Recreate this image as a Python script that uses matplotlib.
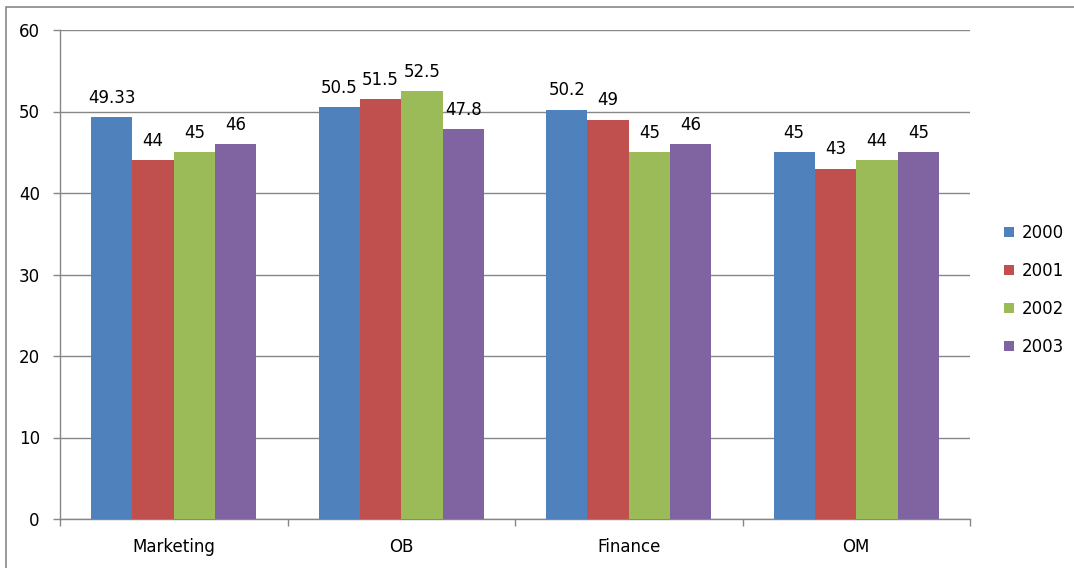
import matplotlib.pyplot as plt
import numpy as np
from matplotlib.patches import Rectangle, Patch

categories = ["Marketing", "OB", "Finance", "OM"]
years = ["2000", "2001", "2002", "2003"]
v2000 = [49.33, 50.5, 50.2, 45]
v2001 = [44, 51.5, 49, 43]
v2002 = [45, 52.5, 45, 44]
v2003 = [46, 47.8, 46, 45]
labels2000 = ["49.33", "50.5", "50.2", "45"]
labels2001 = ["44", "51.5", "49", "43"]
labels2002 = ["45", "52.5", "45", "44"]
labels2003 = ["46", "47.8", "46", "45"]
colors = ["#4F81BD", "#C0504D", "#9BBB59", "#8064A2"]

series = [v2000, v2001, v2002, v2003]
slabels = [labels2000, labels2001, labels2002, labels2003]

plt.rcParams['font.family'] = ['DejaVu Sans']
FS = 12
W, H = 1074, 568
fig = plt.figure(figsize=(W / 100, H / 100), dpi=100)
ax = fig.add_axes([60 / W, 1 - 519 / H, (970 - 60) / W, (519 - 30) / H])

x = np.arange(len(categories))
w = 1 / 5.5
for i, (vals, labs) in enumerate(zip(series, slabels)):
    pos = x - 2 * w + w * i + w / 2
    bars = ax.bar(pos, vals, width=w, color=colors[i], label=years[i], zorder=3)
    for b, lab in zip(bars, labs):
        ax.annotate(lab, (b.get_x() + b.get_width() / 2, b.get_height()),
                    xytext=(0, 7.5), textcoords="offset points",
                    ha="center", va="bottom", fontsize=FS, color="#000000")

ax.set_xlim(-0.5, len(categories) - 0.5)
ax.set_ylim(0, 60)
ax.set_yticks(range(0, 61, 10))
ax.yaxis.grid(True, color="#878787", linewidth=1, zorder=0)
ax.set_axisbelow(True)
ax.set_xticks(x)
ax.set_xticklabels(categories, fontsize=FS)
ax.set_xticks(np.arange(-0.5, len(categories), 1), minor=True)
ax.tick_params(axis="x", which="major", length=0, pad=14)
ax.tick_params(axis="x", which="minor", length=5, color="#878787", width=1)
ax.tick_params(axis="y", length=5, color="#878787", width=1, labelsize=FS, pad=9.5)
for s in ["top", "right"]:
    ax.spines[s].set_visible(False)
for s in ["left", "bottom"]:
    ax.spines[s].set_color("#878787")
    ax.spines[s].set_linewidth(1)

handles = [Patch(facecolor=c, label=y) for c, y in zip(colors, years)]
fig.legend(handles=handles, loc="center left", bbox_to_anchor=(989 / W, 1 - 290 / H),
           frameon=False, fontsize=FS, handlelength=0.6, handleheight=0.6,
           handletextpad=0.45, labelspacing=1.2)

fig.patches.append(Rectangle((6 / W, -0.1), 1.2, 1 - 7 / H + 0.1, transform=fig.transFigure,
                             fill=False, edgecolor="#878787", linewidth=1.2, zorder=10))

fig.savefig("out.png", dpi=100)
